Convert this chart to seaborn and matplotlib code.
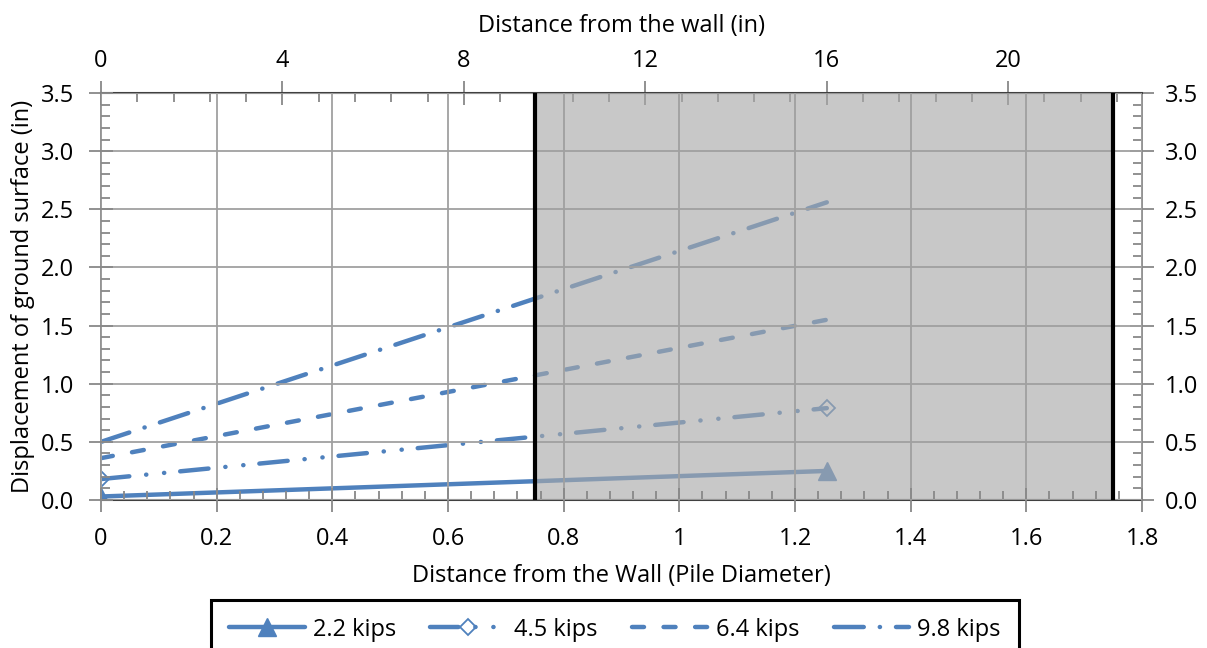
import matplotlib
matplotlib.use("Agg")
import matplotlib.pyplot as plt
from matplotlib.ticker import MultipleLocator, FixedLocator, FuncFormatter
import seaborn as sns

sns.set_theme(style="white")
plt.rcParams["font.family"] = ["Open Sans", "DejaVu Sans"]
plt.rcParams["text.color"] = "black"
plt.rcParams["axes.labelcolor"] = "black"

# Distance from the wall in pile diameters and ground-surface displacement (in)
distance_diam = [0.0, 1.255]
loads = ["2.2 kips", "4.5 kips", "6.4 kips", "9.8 kips"]
disp_22 = [0.03, 0.25]
disp_45 = [0.18, 0.79]
disp_64 = [0.36, 1.55]
disp_98 = [0.50, 2.56]
pile_diameter_in = 12.75
top_ticks_in = [0, 4, 8, 12, 16, 20]

blue = "#4f81bd"
styles = [
    dict(linestyle="-", marker="^", markersize=13, markerfacecolor=blue),
    dict(linestyle=(0, (6.4, 3.8, 0.05, 4.0, 0.05, 3.6)), marker="D",
         markersize=8, markerfacecolor="none", markeredgewidth=1.3),
    dict(linestyle=(0, (2.7, 4.4)), marker=None),
    dict(linestyle=(0, (6.7, 3.6, 0.05, 3.6)), marker=None),
]
series = [disp_22, disp_45, disp_64, disp_98]

fig = plt.figure(figsize=(12.07, 6.48), dpi=100)
ax = fig.add_axes([101 / 1207, 1 - 500 / 648, 1041 / 1207, 407 / 648])

for load, ys, st in zip(loads, series, styles):
    kw = dict(st)
    kw.setdefault("markeredgewidth", 1.0)
    sns.lineplot(x=distance_diam, y=ys, ax=ax, color=blue, linewidth=3.2,
                 markeredgecolor=blue, label=load, legend=False, zorder=2,
                 dash_capstyle="round", solid_capstyle="round", **kw)

# shaded zone beyond the wall influence, drawn over the series
ax.axvspan(0.75, 1.75, color="#a9a9a9", alpha=0.63, zorder=2.2, lw=0)
for xv in (0.75, 1.75):
    ax.axvline(xv, color="black", lw=3.0, zorder=5)

ax.set_xlim(0, 1.8)
ax.set_ylim(0, 3.5)
ax.set_axisbelow(False)
ax.grid(True, which="major", color="#a0a0a0", lw=1.3)
ax.xaxis.set_major_locator(MultipleLocator(0.2))
ax.xaxis.set_minor_locator(MultipleLocator(0.04))
ax.yaxis.set_major_locator(MultipleLocator(0.5))
ax.yaxis.set_minor_locator(MultipleLocator(0.1))
ax.xaxis.set_major_formatter(FuncFormatter(lambda v, p: f"{round(v, 2):g}"))
ax.yaxis.set_major_formatter(FuncFormatter(lambda v, p: f"{v:.1f}"))

tick_col = "#888888"
fs = 17
maj = dict(direction="inout", length=17, width=1.3, color=tick_col,
           labelsize=fs, labelcolor="black")
mnr = dict(direction="in", length=6.5, width=1.3, color=tick_col)
ax.tick_params(axis="x", which="major", pad=11, bottom=True, **maj)
ax.tick_params(axis="x", which="minor", bottom=True, **mnr)
ax.tick_params(axis="y", which="major", pad=11, left=True, **maj)
ax.tick_params(axis="y", which="minor", left=True, **mnr)

for side in ("left", "right"):
    ax.spines[side].set_color(tick_col)
    ax.spines[side].set_linewidth(1.3)
for side in ("top", "bottom"):
    ax.spines[side].set_color("#404040")
    ax.spines[side].set_linewidth(1.5)

ax.set_xlabel("Distance from the Wall (Pile Diameter)", fontsize=fs, labelpad=9)
ax.set_ylabel("Displacement of ground surface (in)", fontsize=fs, labelpad=4)

# top axis in inches
top = ax.secondary_xaxis("top", functions=(lambda x: x * pile_diameter_in,
                                           lambda x: x / pile_diameter_in))
top.xaxis.set_major_locator(FixedLocator(top_ticks_in))
top.xaxis.set_minor_locator(FixedLocator([0.8 * i for i in range(29)]))
top.xaxis.set_major_formatter(FuncFormatter(lambda v, p: f"{v:g}"))
top.tick_params(which="major", pad=6, **maj)
top.tick_params(which="minor", **mnr)
top.spines["top"].set_visible(False)
top.set_xlabel("Distance from the wall (in)", fontsize=fs, labelpad=12)

# right axis mirrors the displacement scale
right = ax.secondary_yaxis("right", functions=(lambda y: y, lambda y: y))
right.yaxis.set_major_locator(MultipleLocator(0.5))
right.yaxis.set_minor_locator(MultipleLocator(0.1))
right.yaxis.set_major_formatter(FuncFormatter(lambda v, p: f"{v:.1f}"))
right.tick_params(which="major", pad=8, **maj)
right.tick_params(which="minor", **mnr)
right.spines["right"].set_visible(False)

handles = ax.get_lines()[:4]
leg = fig.legend(handles, loads, loc="upper center", ncol=4,
                 bbox_to_anchor=(615 / 1207, 1 - 600 / 648), fontsize=fs,
                 frameon=True, fancybox=False, framealpha=1.0, handlelength=3.2,
                 columnspacing=1.45, handletextpad=0.35, borderpad=0.75,
                 borderaxespad=0, numpoints=1)
leg.get_frame().set_edgecolor("black")
leg.get_frame().set_linewidth(2.2)

fig.savefig("out.png", dpi=100)
